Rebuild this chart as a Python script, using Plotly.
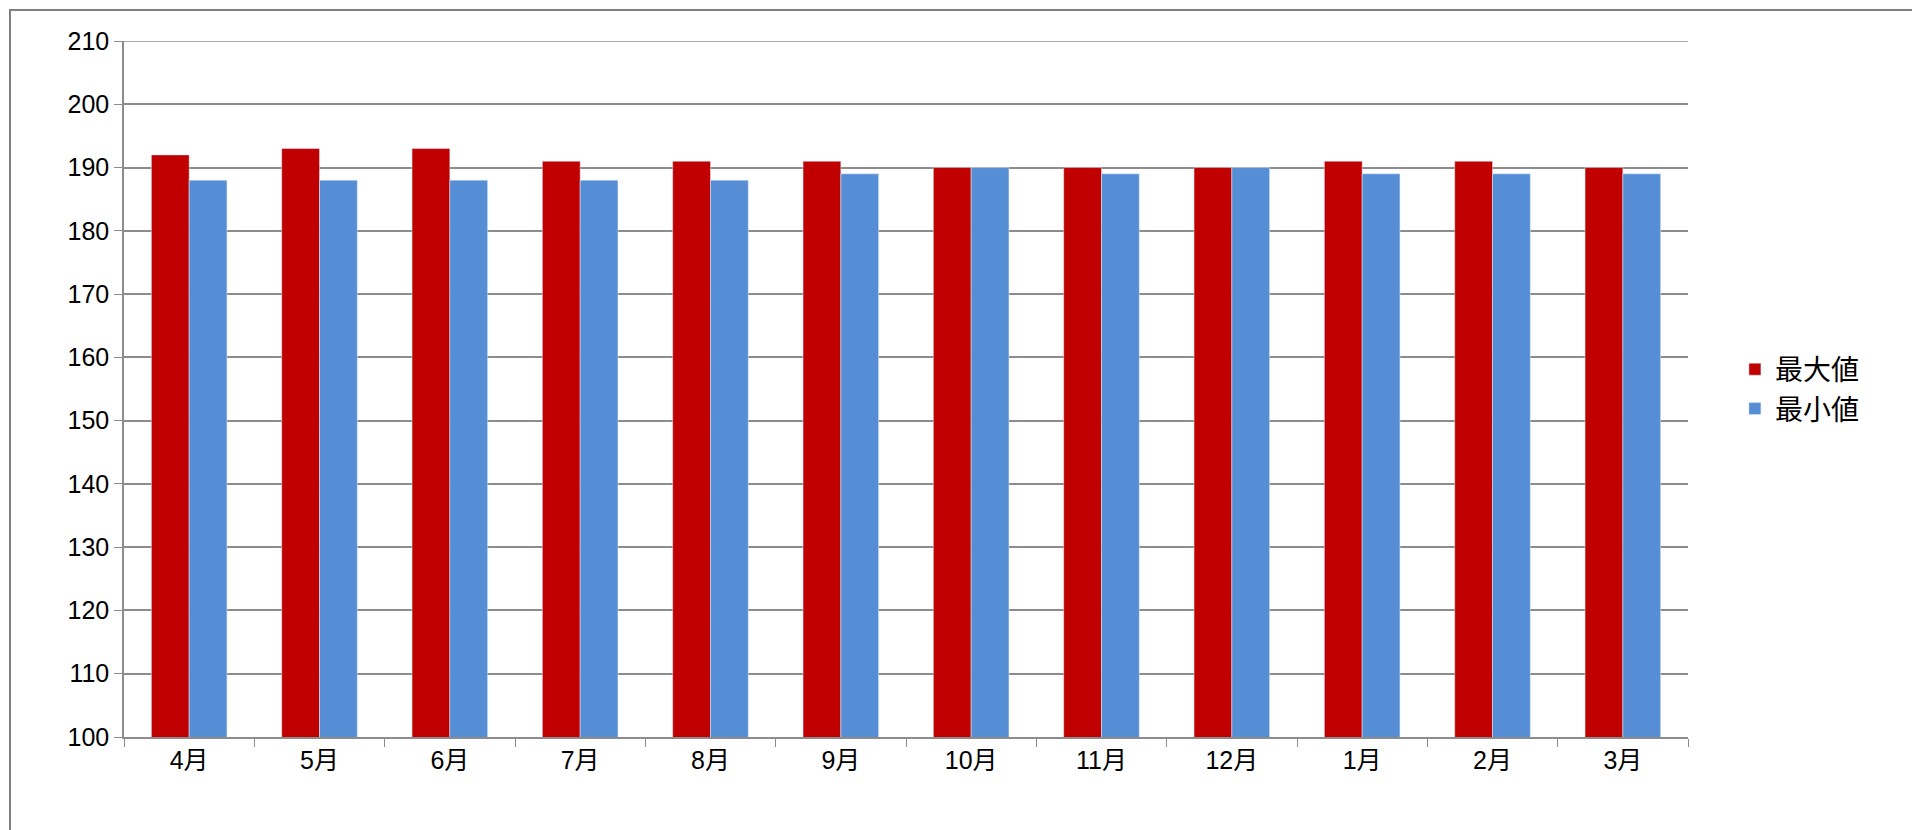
import plotly.graph_objects as go

months = ["4月","5月","6月","7月","8月","9月","10月","11月","12月","1月","2月","3月"]
max_vals = [192,193,193,191,191,191,190,190,190,191,191,190]
min_vals = [188,188,188,188,188,189,190,189,190,189,189,189]

pw, ph = 1920-116-240, 830-33-101
fig = go.Figure()
fig.add_bar(x=months, y=max_vals, name="最大値", marker_color="#C00000")
fig.add_bar(x=months, y=min_vals, name="最小値", marker_color="#558ED5")
fig.update_layout(
    width=1920, height=830, plot_bgcolor="white", paper_bgcolor="white",
    barmode="group", bargap=0.42, bargroupgap=0,
    margin=dict(l=116, r=240, t=33, b=101),
    font=dict(family="Liberation Sans, Noto Sans CJK JP", size=25, color="#000"),
    legend=dict(x=1.03, y=0.5, yanchor="middle", xanchor="left", font=dict(size=28),
                itemwidth=30, tracegroupgap=25),
    shapes=[dict(type="rect", xref="paper", yref="paper", x0=-114/pw, x1=1+238/pw,
                 y0=-99/ph, y1=1+31/ph, line=dict(color="#808080", width=2)),
            dict(type="line", xref="paper", yref="y", x0=0, x1=1, y0=210, y1=210,
                 line=dict(color="#8c8c8c", width=1.5))],
)
fig.update_yaxes(range=[100,210], dtick=10, showgrid=True, gridcolor="#8c8c8c", gridwidth=1.5,
                 showline=True, linecolor="#8c8c8c", linewidth=1.5, ticks="outside",
                 ticklen=8, tickcolor="#8c8c8c", zeroline=False)
fig.update_xaxes(showline=True, linecolor="#8c8c8c", linewidth=1.5, ticks="outside",
                 tickson="boundaries", ticklen=8, tickcolor="#8c8c8c")
fig.write_html("out.html")
